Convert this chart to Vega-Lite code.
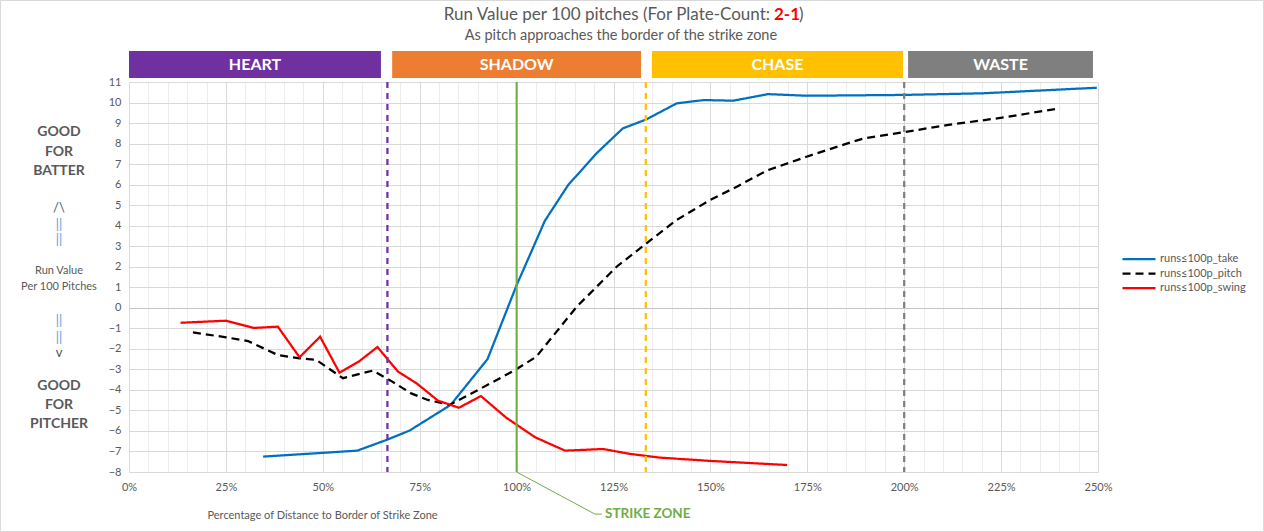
{
  "$schema": "https://vega.github.io/schema/vega-lite/v6.json",
  "width": 969,
  "height": 390,
  "autosize": {"type": "none"},
  "padding": {"left": 129, "top": 82, "right": 166, "bottom": 60},
  "background": "white",
  "config": {
    "font": "Lato",
    "view": {"stroke": null},
    "axisX": {"tickCount": 50},
    "axisY": {"tickCount": 19},
    "legend": {
      "orient": "none",
      "legendX": 992,
      "legendY": 171,
      "symbolType": "stroke",
      "symbolSize": 1089,
      "symbolStrokeWidth": 2.25,
      "clipHeight": 12,
      "rowPadding": 2.5,
      "labelFontSize": 11,
      "labelColor": "#595959",
      "labelOffset": 3,
      "padding": 0
    }
  },
  "layer": [
    {
      "data": {"values": [
        {"series": "runs≤100p_take", "pct": 34.6, "rv": -7.25},
        {"series": "runs≤100p_take", "pct": 58.9, "rv": -6.96},
        {"series": "runs≤100p_take", "pct": 66.4, "rv": -6.44},
        {"series": "runs≤100p_take", "pct": 72.4, "rv": -5.98},
        {"series": "runs≤100p_take", "pct": 83.0, "rv": -4.73},
        {"series": "runs≤100p_take", "pct": 92.5, "rv": -2.5},
        {"series": "runs≤100p_take", "pct": 100.0, "rv": 1.1},
        {"series": "runs≤100p_take", "pct": 107.3, "rv": 4.24},
        {"series": "runs≤100p_take", "pct": 113.3, "rv": 5.98},
        {"series": "runs≤100p_take", "pct": 120.6, "rv": 7.52},
        {"series": "runs≤100p_take", "pct": 127.4, "rv": 8.74},
        {"series": "runs≤100p_take", "pct": 133.5, "rv": 9.18},
        {"series": "runs≤100p_take", "pct": 141.3, "rv": 9.96},
        {"series": "runs≤100p_take", "pct": 148.3, "rv": 10.12},
        {"series": "runs≤100p_take", "pct": 155.9, "rv": 10.09},
        {"series": "runs≤100p_take", "pct": 164.9, "rv": 10.41},
        {"series": "runs≤100p_take", "pct": 174.9, "rv": 10.33},
        {"series": "runs≤100p_take", "pct": 199.8, "rv": 10.37},
        {"series": "runs≤100p_take", "pct": 220.4, "rv": 10.45},
        {"series": "runs≤100p_take", "pct": 249.7, "rv": 10.72},
        {"series": "runs≤100p_pitch", "pct": 16.5, "rv": -1.2},
        {"series": "runs≤100p_pitch", "pct": 25.1, "rv": -1.44},
        {"series": "runs≤100p_pitch", "pct": 30.7, "rv": -1.62},
        {"series": "runs≤100p_pitch", "pct": 38.4, "rv": -2.3},
        {"series": "runs≤100p_pitch", "pct": 44.0, "rv": -2.46},
        {"series": "runs≤100p_pitch", "pct": 48.3, "rv": -2.54},
        {"series": "runs≤100p_pitch", "pct": 55.2, "rv": -3.43},
        {"series": "runs≤100p_pitch", "pct": 62.9, "rv": -3.06},
        {"series": "runs≤100p_pitch", "pct": 67.5, "rv": -3.55},
        {"series": "runs≤100p_pitch", "pct": 72.8, "rv": -4.17},
        {"series": "runs≤100p_pitch", "pct": 77.1, "rv": -4.49},
        {"series": "runs≤100p_pitch", "pct": 82.7, "rv": -4.73},
        {"series": "runs≤100p_pitch", "pct": 90.9, "rv": -3.92},
        {"series": "runs≤100p_pitch", "pct": 99.9, "rv": -3.0},
        {"series": "runs≤100p_pitch", "pct": 105.1, "rv": -2.38},
        {"series": "runs≤100p_pitch", "pct": 115.5, "rv": 0.05},
        {"series": "runs≤100p_pitch", "pct": 125.8, "rv": 2.0},
        {"series": "runs≤100p_pitch", "pct": 133.5, "rv": 3.14},
        {"series": "runs≤100p_pitch", "pct": 141.3, "rv": 4.28},
        {"series": "runs≤100p_pitch", "pct": 149.9, "rv": 5.25},
        {"series": "runs≤100p_pitch", "pct": 156.8, "rv": 5.9},
        {"series": "runs≤100p_pitch", "pct": 164.5, "rv": 6.68},
        {"series": "runs≤100p_pitch", "pct": 174.8, "rv": 7.36},
        {"series": "runs≤100p_pitch", "pct": 185.2, "rv": 8.0},
        {"series": "runs≤100p_pitch", "pct": 189.5, "rv": 8.25},
        {"series": "runs≤100p_pitch", "pct": 199.8, "rv": 8.55},
        {"series": "runs≤100p_pitch", "pct": 211.0, "rv": 8.9},
        {"series": "runs≤100p_pitch", "pct": 225.2, "rv": 9.26},
        {"series": "runs≤100p_pitch", "pct": 240.2, "rv": 9.72},
        {"series": "runs≤100p_swing", "pct": 13.3, "rv": -0.73},
        {"series": "runs≤100p_swing", "pct": 24.9, "rv": -0.63},
        {"series": "runs≤100p_swing", "pct": 32.2, "rv": -0.98},
        {"series": "runs≤100p_swing", "pct": 38.4, "rv": -0.92},
        {"series": "runs≤100p_swing", "pct": 44.0, "rv": -2.41},
        {"series": "runs≤100p_swing", "pct": 49.3, "rv": -1.41},
        {"series": "runs≤100p_swing", "pct": 54.3, "rv": -3.16},
        {"series": "runs≤100p_swing", "pct": 59.3, "rv": -2.62},
        {"series": "runs≤100p_swing", "pct": 64.1, "rv": -1.91},
        {"series": "runs≤100p_swing", "pct": 69.4, "rv": -3.11},
        {"series": "runs≤100p_swing", "pct": 74.2, "rv": -3.68},
        {"series": "runs≤100p_swing", "pct": 79.7, "rv": -4.52},
        {"series": "runs≤100p_swing", "pct": 85.1, "rv": -4.87},
        {"series": "runs≤100p_swing", "pct": 90.8, "rv": -4.3},
        {"series": "runs≤100p_swing", "pct": 97.3, "rv": -5.35},
        {"series": "runs≤100p_swing", "pct": 104.8, "rv": -6.31},
        {"series": "runs≤100p_swing", "pct": 112.5, "rv": -6.96},
        {"series": "runs≤100p_swing", "pct": 122.3, "rv": -6.88},
        {"series": "runs≤100p_swing", "pct": 129.3, "rv": -7.12},
        {"series": "runs≤100p_swing", "pct": 137.0, "rv": -7.3},
        {"series": "runs≤100p_swing", "pct": 150.0, "rv": -7.46},
        {"series": "runs≤100p_swing", "pct": 169.8, "rv": -7.66}
      ]},
      "mark": {"type": "line", "strokeWidth": 2.25},
      "encoding": {
        "x": {
          "field": "pct", "type": "quantitative",
          "scale": {"domain": [0, 250], "nice": false, "zero": false},
          "axis": {
            "labelExpr": "datum.value % 25 === 0 ? datum.value + '%' : ''",
            "grid": true,
            "gridColor": {"condition": {"test": "datum.value % 25 === 0", "value": "#d9d9d9"}, "value": "#ededed"},
            "ticks": false,
            "domain": false,
            "labelFlush": false,
            "labelOverlap": false,
            "labelFontSize": 11,
            "labelColor": "#595959",
            "labelPadding": 9,
            "title": "Percentage of Distance to Border of Strike Zone",
            "titleFontSize": 11,
            "titleFontWeight": "normal",
            "titleColor": "#595959",
            "titleAnchor": "start",
            "titleAlign": "left",
            "titleBaseline": "middle",
            "titleX": 78,
            "titleY": 43
          }
        },
        "y": {
          "field": "rv", "type": "quantitative",
          "scale": {"domain": [-8, 11], "nice": false, "zero": false},
          "axis": {
            "grid": true,
            "gridColor": {"condition": {"test": "datum.value === 0", "value": "#c4c4c4"}, "value": "#d9d9d9"},
            "ticks": false,
            "domain": false,
            "labelOverlap": false,
            "labelFontSize": 11,
            "labelColor": "#595959",
            "labelPadding": 8,
            "title": null
          }
        },
        "color": {
          "field": "series", "type": "nominal",
          "scale": {"domain": ["runs≤100p_take", "runs≤100p_pitch", "runs≤100p_swing"], "range": ["#0070c0", "#000000", "#ff0000"]},
          "legend": {"title": null}
        },
        "strokeDash": {
          "field": "series", "type": "nominal",
          "scale": {"domain": ["runs≤100p_take", "runs≤100p_pitch", "runs≤100p_swing"], "range": [[1, 0], [8, 5], [1, 0]]},
          "legend": {"title": null}
        }
      }
    },
    {
      "data": {"values": [{"frame": "chart"}]},
      "mark": {"type": "rect", "fillOpacity": 0, "stroke": "#d9d9d9", "strokeWidth": 1},
      "encoding": {
        "x": {"datum": -33.15, "type": "quantitative", "scale": {"domain": [0, 250], "nice": false, "zero": false}},
        "x2": {"datum": 292.7},
        "y": {"datum": 14.97, "type": "quantitative", "scale": {"domain": [-8, 11], "nice": false, "zero": false}},
        "y2": {"datum": -10.9}
      }
    },
    {
      "data": {"values": [
        {"zone": "HEART", "start": 0, "end": 65},
        {"zone": "SHADOW", "start": 67.9, "end": 132.1},
        {"zone": "CHASE", "start": 134.9, "end": 199.7},
        {"zone": "WASTE", "start": 201, "end": 248.7}
      ]},
      "layer": [
        {
          "mark": {"type": "rect"},
          "encoding": {
            "x": {"field": "start", "type": "quantitative", "scale": {"domain": [0, 250], "nice": false, "zero": false}},
            "x2": {"field": "end"},
            "y": {"datum": 12.51, "type": "quantitative", "scale": {"domain": [-8, 11], "nice": false, "zero": false}},
            "y2": {"datum": 11.195},
            "fill": {"field": "zone", "type": "nominal", "scale": {"domain": ["HEART", "SHADOW", "CHASE", "WASTE"], "range": ["#7030a0", "#ed7d31", "#ffc000", "#7f7f7f"]}, "legend": null}
          }
        },
        {
          "transform": [{"calculate": "(datum.start + datum.end) / 2", "as": "mid"}],
          "mark": {"type": "text", "color": "white", "fontWeight": "bold", "fontSize": 16, "baseline": "middle", "align": "center"},
          "encoding": {
            "x": {"field": "mid", "type": "quantitative", "scale": {"domain": [0, 250], "nice": false, "zero": false}},
            "y": {"datum": 11.85, "type": "quantitative", "scale": {"domain": [-8, 11], "nice": false, "zero": false}},
            "text": {"field": "zone"}
          }
        }
      ]
    },
    {
      "data": {"values": [
        {"boundary": "HEART | SHADOW", "pct": 66.67},
        {"boundary": "SHADOW | CHASE", "pct": 133.33},
        {"boundary": "CHASE | WASTE", "pct": 200}
      ]},
      "mark": {"type": "rule", "strokeWidth": 2.25, "strokeDash": [6, 5]},
      "encoding": {
        "x": {"field": "pct", "type": "quantitative", "scale": {"domain": [0, 250], "nice": false, "zero": false}},
        "stroke": {"field": "boundary", "type": "nominal", "scale": {"domain": ["HEART | SHADOW", "SHADOW | CHASE", "CHASE | WASTE"], "range": ["#7030a0", "#ffc000", "#7f7f7f"]}, "legend": null}
      }
    },
    {
      "data": {"values": [{"boundary": "STRIKE ZONE", "pct": 100}]},
      "mark": {"type": "rule", "strokeWidth": 2, "color": "#70ad47"},
      "encoding": {
        "x": {"field": "pct", "type": "quantitative", "scale": {"domain": [0, 250], "nice": false, "zero": false}}
      }
    },
    {
      "data": {"values": [
        {"pct": 100, "rv": -8},
        {"pct": 120.2, "rv": -10.05},
        {"pct": 122.0, "rv": -10.05}
      ]},
      "mark": {"type": "line", "strokeWidth": 1, "color": "#70ad47"},
      "encoding": {
        "x": {"field": "pct", "type": "quantitative", "scale": {"domain": [0, 250], "nice": false, "zero": false}},
        "y": {"field": "rv", "type": "quantitative", "scale": {"domain": [-8, 11], "nice": false, "zero": false}}
      }
    },
    {
      "data": {"values": [{"t": "STRIKE ZONE"}]},
      "mark": {"type": "text", "align": "left", "baseline": "middle", "fontWeight": "bold", "fontSize": 13.5, "color": "#70ad47"},
      "encoding": {
        "x": {"datum": 122.8, "type": "quantitative", "scale": {"domain": [0, 250], "nice": false, "zero": false}},
        "y": {"datum": -10.05, "type": "quantitative", "scale": {"domain": [-8, 11], "nice": false, "zero": false}},
        "text": {"field": "t"}
      }
    },
    {
      "data": {"values": [{"t": "Run Value per 100 pitches (For Plate-Count:"}]},
      "mark": {"type": "text", "align": "right", "baseline": "middle", "fontSize": 17, "color": "#595959", "dx": -4},
      "encoding": {
        "x": {"datum": 166.41, "type": "quantitative", "scale": {"domain": [0, 250], "nice": false, "zero": false}},
        "y": {"datum": 14.24, "type": "quantitative", "scale": {"domain": [-8, 11], "nice": false, "zero": false}},
        "text": {"field": "t"}
      }
    },
    {
      "data": {"values": [{"t": "2-1"}]},
      "mark": {"type": "text", "align": "left", "baseline": "middle", "fontSize": 17, "fontWeight": "bold", "color": "#ff0000"},
      "encoding": {
        "x": {"datum": 166.41, "type": "quantitative", "scale": {"domain": [0, 250], "nice": false, "zero": false}},
        "y": {"datum": 14.24, "type": "quantitative", "scale": {"domain": [-8, 11], "nice": false, "zero": false}},
        "text": {"field": "t"}
      }
    },
    {
      "data": {"values": [{"t": ")"}]},
      "mark": {"type": "text", "align": "left", "baseline": "middle", "fontSize": 17, "color": "#595959", "dx": 25},
      "encoding": {
        "x": {"datum": 166.41, "type": "quantitative", "scale": {"domain": [0, 250], "nice": false, "zero": false}},
        "y": {"datum": 14.24, "type": "quantitative", "scale": {"domain": [-8, 11], "nice": false, "zero": false}},
        "text": {"field": "t"}
      }
    },
    {
      "data": {"values": [{"t": "As pitch approaches the border of the strike zone"}]},
      "mark": {"type": "text", "align": "center", "baseline": "middle", "fontSize": 14.5, "color": "#595959"},
      "encoding": {
        "x": {"datum": 126.9, "type": "quantitative", "scale": {"domain": [0, 250], "nice": false, "zero": false}},
        "y": {"datum": 13.24, "type": "quantitative", "scale": {"domain": [-8, 11], "nice": false, "zero": false}},
        "text": {"field": "t"}
      }
    },
    {
      "data": {"values": [{"t": "GOOD\nFOR\nBATTER"}]},
      "mark": {"type": "text", "align": "center", "baseline": "middle", "fontSize": 14, "fontWeight": "bold", "color": "#595959", "lineBreak": "\n", "lineHeight": 19.4},
      "encoding": {
        "x": {"datum": -18.06, "type": "quantitative", "scale": {"domain": [0, 250], "nice": false, "zero": false}},
        "y": {"datum": 8.55, "type": "quantitative", "scale": {"domain": [-8, 11], "nice": false, "zero": false}},
        "text": {"field": "t"}
      }
    },
    {
      "data": {"values": [{"t": "/\\"}]},
      "mark": {"type": "text", "align": "center", "baseline": "middle", "fontSize": 13, "color": "#44546a"},
      "encoding": {
        "x": {"datum": -18.06, "type": "quantitative", "scale": {"domain": [0, 250], "nice": false, "zero": false}},
        "y": {"datum": 4.88, "type": "quantitative", "scale": {"domain": [-8, 11], "nice": false, "zero": false}},
        "text": {"field": "t"}
      }
    },
    {
      "data": {"values": [{"t": "||\n||"}]},
      "mark": {"type": "text", "align": "center", "baseline": "middle", "fontSize": 13, "color": "#5b9bd5", "lineBreak": "\n", "lineHeight": 15},
      "encoding": {
        "x": {"datum": -18.06, "type": "quantitative", "scale": {"domain": [0, 250], "nice": false, "zero": false}},
        "y": {"datum": 4.02, "type": "quantitative", "scale": {"domain": [-8, 11], "nice": false, "zero": false}},
        "text": {"field": "t"}
      }
    },
    {
      "data": {"values": [{"t": "Run Value\nPer 100 Pitches"}]},
      "mark": {"type": "text", "align": "center", "baseline": "middle", "fontSize": 11, "color": "#595959", "lineBreak": "\n", "lineHeight": 15.4},
      "encoding": {
        "x": {"datum": -18.06, "type": "quantitative", "scale": {"domain": [0, 250], "nice": false, "zero": false}},
        "y": {"datum": 1.78, "type": "quantitative", "scale": {"domain": [-8, 11], "nice": false, "zero": false}},
        "text": {"field": "t"}
      }
    },
    {
      "data": {"values": [{"t": "||\n||"}]},
      "mark": {"type": "text", "align": "center", "baseline": "middle", "fontSize": 13, "color": "#5b9bd5", "lineBreak": "\n", "lineHeight": 17},
      "encoding": {
        "x": {"datum": -18.06, "type": "quantitative", "scale": {"domain": [0, 250], "nice": false, "zero": false}},
        "y": {"datum": -0.62, "type": "quantitative", "scale": {"domain": [-8, 11], "nice": false, "zero": false}},
        "text": {"field": "t"}
      }
    },
    {
      "data": {"values": [{"t": "v"}]},
      "mark": {"type": "text", "align": "center", "baseline": "middle", "fontSize": 13, "color": "#44546a"},
      "encoding": {
        "x": {"datum": -18.06, "type": "quantitative", "scale": {"domain": [0, 250], "nice": false, "zero": false}},
        "y": {"datum": -2.19, "type": "quantitative", "scale": {"domain": [-8, 11], "nice": false, "zero": false}},
        "text": {"field": "t"}
      }
    },
    {
      "data": {"values": [{"t": "GOOD\nFOR\nPITCHER"}]},
      "mark": {"type": "text", "align": "center", "baseline": "middle", "fontSize": 14, "fontWeight": "bold", "color": "#595959", "lineBreak": "\n", "lineHeight": 19.2},
      "encoding": {
        "x": {"datum": -18.06, "type": "quantitative", "scale": {"domain": [0, 250], "nice": false, "zero": false}},
        "y": {"datum": -3.81, "type": "quantitative", "scale": {"domain": [-8, 11], "nice": false, "zero": false}},
        "text": {"field": "t"}
      }
    }
  ]
}
